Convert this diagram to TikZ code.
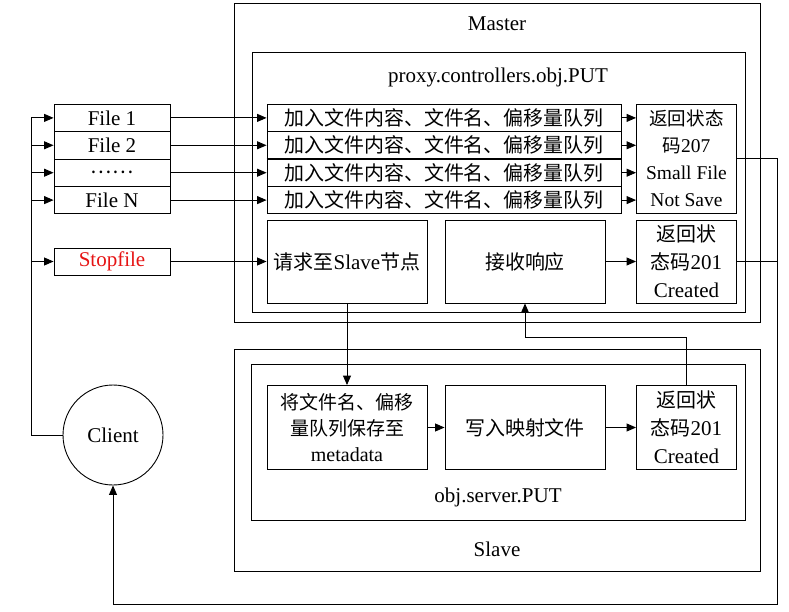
\documentclass[tikz,border=0pt]{standalone}
\usepackage{fontspec}
\setmainfont{Liberation Serif}
\newfontfamily\zhfont[Scale=0.95]{Noto Sans CJK SC}
\newcommand{\zhtxt}[1]{{\zhfont #1}}
\usetikzlibrary{arrows.meta}
\definecolor{stopred}{RGB}{230,20,20}

\begin{document}
\begin{tikzpicture}[x=1pt, y=-1pt, line width=0.9pt,
	font=\fontsize{21}{28}\selectfont,
	box/.style={draw, inner sep=0pt, align=center},
	filebox/.style={box, minimum width=116pt, minimum height=27.4pt},
	qbox/.style={box, minimum width=354pt, minimum height=27.4pt},
	stepbox/.style={box, minimum width=160pt, minimum height=83pt},
	retbox/.style={box, minimum width=100pt, minimum height=83pt},
	arr/.style={-{Triangle[length=9.5pt,width=8pt]}}]
			%%%%% START %%%%%
			
			\useasboundingbox (0, 0) rectangle (789, 612);
			
			\draw (234, 3) rectangle (760, 322);
			\node (mastertxt) at (497, 24) {Master};
			\draw (252, 52) rectangle (745, 312);
			\node (proxytxt) at (498, 77) {proxy.controllers.obj.PUT};
			
			\draw (234, 349) rectangle (760, 571);
			\node (slavetxt) at (497, 549) {Slave};
			\draw (251, 364) rectangle (745, 520);
			\node (servertxt) at (498, 497) {obj.server.PUT};
			
			\node[filebox] (f1) at (112, 117.9) {File 1};
			\node[filebox] (f2) at (112, 145.3) {File 2};
			\node[filebox] (f3) at (112, 172.7) {\zhtxt{……}};
			\node[filebox] (f4) at (112, 200.1) {File N};
			\node[filebox, minimum height=27pt, text=stopred] (stop) at (112, 261.5) {Stopfile};
			
			\foreach \i/\y in {1/117.9, 2/145.3, 3/172.7, 4/200.1}
				\node[qbox] (q\i) at (444, \y) {\zhtxt{加入文件内容、文件名、偏移量队列}};
			\draw[line width=2pt] (q2.south west) -- (q2.south east);
			
			\node[retbox, minimum height=109pt, font=\fontsize{19.5}{27}\selectfont] (ret207) at (686.5, 158.7)
				{\zhtxt{返回状态}\\\zhtxt{码}207\\Small File\\Not Save};
			
			\node[stepbox] (req) at (347, 261.5) {\zhtxt{请求至}Slave\zhtxt{节点}};
			\node[stepbox] (recv) at (525, 261.5) {\zhtxt{接收响应}};
			\node[retbox] (ret201m) at (686.5, 261.5) {\zhtxt{返回状}\\\zhtxt{态码}201\\Created};
			
			\node[stepbox, minimum height=84pt, font=\fontsize{20}{26}\selectfont] (meta) at (347, 427.5)
				{\zhtxt{将文件名、偏移}\\\zhtxt{量队列保存至}\\metadata};
			\node[stepbox, minimum height=84pt] (write) at (525, 427.5) {\zhtxt{写入映射文件}};
			\node[retbox, minimum height=84pt] (ret201s) at (686.5, 427.5) {\zhtxt{返回状}\\\zhtxt{态码}201\\Created};
			
			\node[draw, circle, minimum size=100pt, inner sep=0pt] (client) at (113, 435) {Client};
			
			\coordinate (lft) at (31, 117.9);
			\coordinate (rgt) at (777, 604);
			\coordinate (rtn) at (600, 337);
			
			\draw (client.west) -| (lft);
			\foreach \n in {f1, f2, f3, f4, stop}
				\draw[arr] (lft |- \n.west) -- (\n.west);
			
			\foreach \i in {1, 2, 3, 4}
				\draw[arr] (f\i.east) -- (q\i.west);
			\foreach \i in {1, 2, 3, 4}
				\draw[arr] (q\i.east) -- (q\i.east -| ret207.west);
			\draw[arr] (stop.east) -- (req.west);
			\draw[arr] (recv.east) -- (ret201m.west);
			
			\draw[arr] (req.south) -- (meta.north);
			\draw[arr] (meta.east) -- (write.west);
			\draw[arr] (write.east) -- (ret201s.west);
			\draw[arr] (ret201s.north) -- (ret201s.north |- rtn) -| (recv.south);
			
			\draw[arr] (ret207.east) -| (rgt) -| (client.south);
			\draw (ret201m.east) -- (ret201m.east -| rgt);
			
			%%%%% END %%%%%
		\end{tikzpicture}
\end{document}
